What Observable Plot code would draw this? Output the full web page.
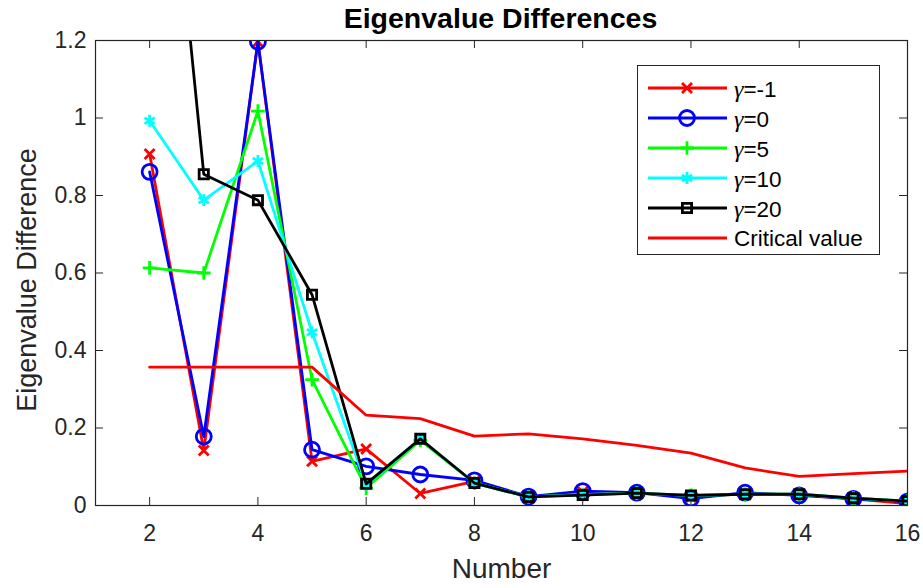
<!DOCTYPE html>
<html>
<head>
<meta charset="utf-8">
<script src="https://cdn.jsdelivr.net/npm/d3@7"></script>
<script src="https://cdn.jsdelivr.net/npm/@observablehq/plot@0.6"></script>
<style>
  html, body { margin: 0; padding: 0; background: white; }
  #wrap { position: relative; width: 923px; height: 588px; font-family: "Liberation Sans", Arial, sans-serif; color: #262626; }
  #title { height: 24px; padding-top: 6px; line-height: 24px; text-align: center; font-weight: bold; font-size: 28.5px; color: #000; padding-left: 78px; }
  #legend { position: absolute; left: 637px; top: 65px; width: 241px; height: 188px; border: 1px solid #262626; background: white; }
  .row { position: absolute; left: 0; height: 30px; width: 240px; }
  .row > svg { position: absolute; left: 0; top: 0; }
  .row > span { position: absolute; left: 96px; top: 1px; line-height: 30px; font-size: 22.5px; color: #000; white-space: nowrap; }
  .g { font-family: "Liberation Serif", "DejaVu Serif", serif; font-style: italic; font-size: 24px; }
</style>
</head>
<body>
<div id="wrap">
  <div id="title">Eigenvalue Differences</div>
  <div id="chart"></div>
  <div id="legend"></div>
</div>
<script>
// ---- data ----
const numbers = [2, 3, 4, 5, 6, 7, 8, 9, 10, 11, 12, 13, 14, 15, 16];
const gammaM1 = [0.907, 0.142, 1.197, 0.114, 0.146, 0.031, 0.062, 0.021, 0.035, 0.033, 0.022, 0.030, 0.028, 0.017, 0.005];
const gamma0  = [0.861, 0.178, 1.197, 0.144, 0.101, 0.080, 0.065, 0.023, 0.037, 0.033, 0.018, 0.033, 0.026, 0.017, 0.010];
const gamma5  = [0.613, 0.600, 1.018, 0.325, 0.045, 0.168, 0.058, 0.022, 0.028, 0.032, 0.026, 0.029, 0.029, 0.019, 0.011];
const gamma10 = [0.993, 0.788, 0.889, 0.447, 0.054, 0.172, 0.058, 0.022, 0.028, 0.032, 0.026, 0.029, 0.029, 0.019, 0.011];
const gamma20 = [2.25, 0.855, 0.788, 0.544, 0.056, 0.172, 0.058, 0.022, 0.027, 0.032, 0.026, 0.029, 0.029, 0.019, 0.011];
const critical = [0.357, 0.357, 0.357, 0.357, 0.233, 0.224, 0.179, 0.185, 0.172, 0.155, 0.135, 0.097, 0.075, 0.082, 0.089];
const seriesNames = ["-1", "0", "5", "10", "20"];
const criticalName = "Critical value";
const xTicks = [2, 4, 6, 8, 10, 12, 14, 16];
const yTicks = [0, 0.2, 0.4, 0.6, 0.8, 1, 1.2];
const titleText = "Eigenvalue Differences";
const xLabel = "Number";
const yLabel = "Eigenvalue Difference";

// ---- styling ----
const series = [
  {name: seriesNames[0], values: gammaM1, color: "#ff0000", symbol: "times", r: 4.6},
  {name: seriesNames[1], values: gamma0, color: "#0000ff", symbol: "circle", r: 7.5},
  {name: seriesNames[2], values: gamma5, color: "#00ff00", symbol: "plus", r: 4.5},
  {name: seriesNames[3], values: gamma10, color: "#00ffff", symbol: "asterisk", r: 5.6},
  {name: seriesNames[4], values: gamma20, color: "#000000", symbol: "square", r: 5.2}
];
const rows = v => numbers.map((n, i) => ({x: n, y: v[i]}));

const W = 923, H = 558, mL = 95, mR = 16, mT = 10, mB = 83;
const fw = W - mL - mR, fh = H - mT - mB, tick = 8;
const LW = 2.8;

const marks = [
  Plot.axisX({ticks: xTicks, tickSize: 0, tickPadding: 19, fontSize: 23, label: null}),
  Plot.axisY({ticks: yTicks, tickSize: 0, tickPadding: 9, fontSize: 23, label: null, tickFormat: d => String(d)}),
  Plot.ruleY(yTicks, {y: d => d, insetRight: fw - tick, stroke: "#262626"}),
  Plot.ruleY(yTicks, {y: d => d, insetLeft: fw - tick, stroke: "#262626"}),
  Plot.ruleX(xTicks, {x: d => d, insetTop: fh - tick, stroke: "#262626"}),
  Plot.ruleX(xTicks, {x: d => d, insetBottom: fh - tick, stroke: "#262626"}),
  Plot.text([xLabel], {text: d => d, frameAnchor: "bottom", dy: 72, fontSize: 28, fill: "#262626"}),
  Plot.text([yLabel], {text: d => d, frameAnchor: "left", textAnchor: "middle", rotate: -90, dx: -68, dy: 7, fontSize: 27, fill: "#262626"})
];
for (const s of series) {
  marks.push(Plot.line(rows(s.values), {x: "x", y: "y", stroke: s.color, strokeWidth: LW, clip: true}));
  marks.push(Plot.dot(rows(s.values), {x: "x", y: "y", symbol: s.symbol, stroke: s.color, strokeWidth: LW, r: s.r, fill: "none", clip: true}));
}
marks.push(Plot.line(rows(critical), {x: "x", y: "y", stroke: "#ff0000", strokeWidth: LW, clip: true}));
marks.push(Plot.frame({stroke: "#262626", strokeWidth: 1.2}));

const chart = Plot.plot({
  width: W, height: H,
  marginLeft: mL, marginRight: mR, marginTop: mT, marginBottom: mB,
  x: {domain: [1, 16]},
  y: {domain: [0, 1.2]},
  style: {fontFamily: "'Liberation Sans', Arial, sans-serif", color: "#262626", background: "white", overflow: "visible"},
  marks
});
document.getElementById("chart").appendChild(chart);
document.getElementById("title").textContent = titleText;

// ---- legend ----
const symMap = {times: d3.symbolTimes, circle: d3.symbolCircle, plus: d3.symbolPlus, asterisk: d3.symbolAsterisk, square: d3.symbolSquare};
const legend = d3.select("#legend");
const entries = series.map(s => ({...s, label: s.name})).concat([{color: "#ff0000", symbol: null, critical: true}]);
entries.forEach((e, i) => {
  const row = legend.append("div").attr("class", "row").style("top", (7 + i * 30) + "px");
  const svg = row.append("svg").attr("width", 92).attr("height", 30);
  svg.append("line").attr("x1", 10).attr("x2", 89).attr("y1", 15).attr("y2", 15)
    .attr("stroke", e.color).attr("stroke-width", LW);
  if (e.symbol) {
    svg.append("path").attr("transform", "translate(49,15)")
      .attr("d", d3.symbol(symMap[e.symbol], Math.PI * e.r * e.r)())
      .attr("fill", "none").attr("stroke", e.color).attr("stroke-width", LW);
  }
  const span = row.append("span");
  if (e.critical) span.text(criticalName);
  else {
    span.append("span").attr("class", "g").text("γ");
    span.append("span").text("=" + e.label);
  }
});
</script>
</body>
</html>
